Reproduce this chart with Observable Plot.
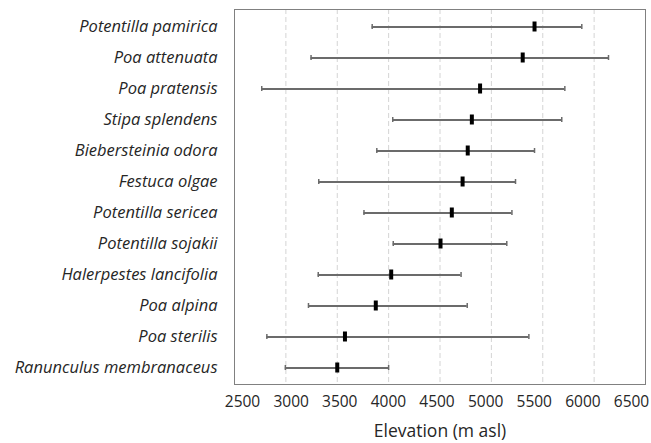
<!DOCTYPE html>
<html>
<head>
<meta charset="utf-8">
<script src="https://cdn.jsdelivr.net/npm/d3@7"></script>
<script src="https://cdn.jsdelivr.net/npm/@observablehq/plot@0.6"></script>
<style>
  html, body { margin: 0; padding: 0; background: #fff; }
  g[aria-label="y-axis tick label"] text { font-style: italic; }
</style>
</head>
<body>
<div id="chart"></div>
<script>
const species = [
  "Potentilla pamirica", "Poa attenuata", "Poa pratensis", "Stipa splendens",
  "Biebersteinia odora", "Festuca olgae", "Potentilla sericea", "Potentilla sojakii",
  "Halerpestes lancifolia", "Poa alpina", "Poa sterilis", "Ranunculus membranaceus"
];
const lows    = [3840, 3245, 2765, 4040, 3885, 3320, 3760, 4045, 3315, 3220, 2815, 2995];
const medians = [5420, 5305, 4890, 4810, 4770, 4720, 4615, 4505, 4025, 3875, 3575, 3500];
const highs   = [5880, 6140, 5715, 5685, 5420, 5235, 5200, 5150, 4705, 4765, 5365, 4000];
const xTicks = [2500, 3000, 3500, 4000, 4500, 5000, 5500, 6000, 6500];
const gridTicks = [3000, 3500, 4000, 4500, 5000, 5500, 6000];

const data = species.map((name, i) => ({name, low: lows[i], median: medians[i], high: highs[i]}));

// tick labels in the reference sit slightly compressed relative to the grid
const tickAxes = xTicks.map(v => Plot.axisX([v], {
  tickFormat: d => String(d), tickSize: 0, tickPadding: 11, fontSize: 15.5,
  dx: 8 - (v - 2500) * 0.0055, label: null
}));

const chart = Plot.plot({
  width: 651,
  height: 443,
  marginLeft: 234,
  marginRight: 6,
  marginTop: 9,
  marginBottom: 59,
  style: {fontFamily: "'Open Sans', sans-serif", color: "#262626", background: "#fff"},
  x: {domain: [2500, 6500]},
  y: {domain: species, padding: 0},
  marks: [
    Plot.ruleX(gridTicks, {stroke: "#d4d4d4", strokeDasharray: "5,3", strokeWidth: 1}),
    Plot.frame({stroke: "#808080", strokeWidth: 1}),
    Plot.ruleY(data, {y: "name", x1: "low", x2: "high", stroke: "#6b6b6b", strokeWidth: 2}),
    Plot.tickX(data, {x: "low", y: "name", stroke: "#6b6b6b", strokeWidth: 1.5, insetTop: 13, insetBottom: 13}),
    Plot.tickX(data, {x: "high", y: "name", stroke: "#6b6b6b", strokeWidth: 1.5, insetTop: 13, insetBottom: 13}),
    Plot.tickX(data, {x: "median", y: "name", stroke: "#000", strokeWidth: 4, insetTop: 10.5, insetBottom: 10.5}),
    ...tickAxes,
    Plot.axisX({ticks: [], tickSize: 0, label: "Elevation (m asl)", labelAnchor: "center",
      labelArrow: "none", labelOffset: 52, fontSize: 17.5}),
    Plot.axisY({tickSize: 0, tickPadding: 17, fontSize: 16.5, label: null})
  ]
});
document.getElementById("chart").appendChild(chart);
</script>
</body>
</html>
